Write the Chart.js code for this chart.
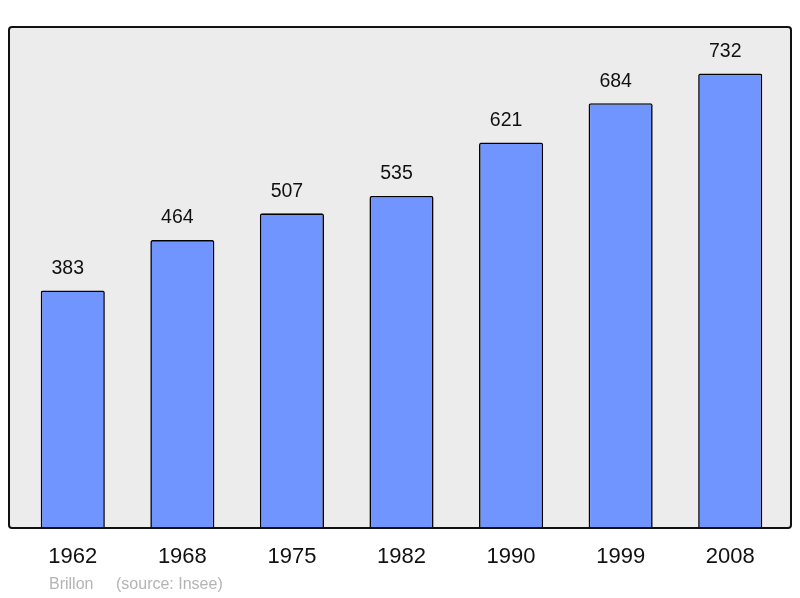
<!DOCTYPE html>
<html>
<head>
<meta charset="utf-8">
<script src="https://cdn.jsdelivr.net/npm/chart.js@4/dist/chart.umd.min.js"></script>
<style>
  html, body { margin: 0; padding: 0; background: #fff; }
  #wrap { width: 800px; height: 598px; }
</style>
</head>
<body>
<div id="wrap"><canvas id="myChart" width="800" height="598"></canvas></div>
<script>
var years = ['1962', '1968', '1975', '1982', '1990', '1999', '2008'];
var population = [383, 464, 507, 535, 621, 684, 732];
var townName = 'Brillon';
var sourceText = '(source: Insee)';

// grey frame behind the bars
var framePlugin = {
    id: 'frame',
    beforeDraw: function (chart) {
        var ctx = chart.ctx;
        ctx.save();
        ctx.beginPath();
        ctx.roundRect(9, 27, 782, 501, 3);
        ctx.fillStyle = '#ececec';
        ctx.fill();
        ctx.restore();
    },
    afterDatasetsDraw: function (chart) {
        var ctx = chart.ctx;
        var meta = chart.getDatasetMeta(0);
        ctx.save();
        // frame outline on top so it covers bar bottoms
        ctx.beginPath();
        ctx.roundRect(9, 27, 782, 501, 3);
        ctx.lineWidth = 2;
        ctx.strokeStyle = '#111';
        ctx.stroke();

        ctx.font = '19.5px "Liberation Sans", Arial, sans-serif';
        ctx.fillStyle = '#111';
        ctx.textAlign = 'center';
        ctx.textBaseline = 'middle';
        meta.data.forEach(function (bar, i) {
            ctx.fillText(String(population[i]), bar.x - 5, bar.y - 22);
        });
        // footer
        ctx.font = '16px "Liberation Sans", Arial, sans-serif';
        ctx.fillStyle = '#b4b4b4';
        ctx.textAlign = 'left';
        ctx.fillText(townName, 49, 585);
        ctx.fillText(sourceText, 116, 585);
        ctx.restore();
    }
};

var ctx = document.getElementById('myChart').getContext('2d');
var chart = new Chart(ctx, {
    type: 'bar',
    data: {
        labels: years,
        datasets: [
            {
                label: 'Population',
                data: population,
                backgroundColor: 'rgb(112, 149, 255)',
                borderColor: '#000',
                borderWidth: 1.6,
                borderRadius: 2,
                borderSkipped: 'bottom',
                categoryPercentage: 1,
                barPercentage: 0.585,
            },
        ],
    },
    options: {
        responsive: false,
        animation: false,
        layout: {
            padding: { left: 18, right: 15, top: 28, bottom: 21 },
        },
        plugins: {
            legend: { display: false },
            tooltip: { enabled: false },
        },
        scales: {
            x: {
                grid: { display: false },
                border: { display: false },
                ticks: {
                    color: '#111',
                    padding: 7,
                    font: { family: '"Liberation Sans", Arial, sans-serif', size: 22 },
                },
            },
            y: {
                display: false,
                min: 0,
                max: 805,
            },
        },
    },
    plugins: [framePlugin],
});
</script>
</body>
</html>
